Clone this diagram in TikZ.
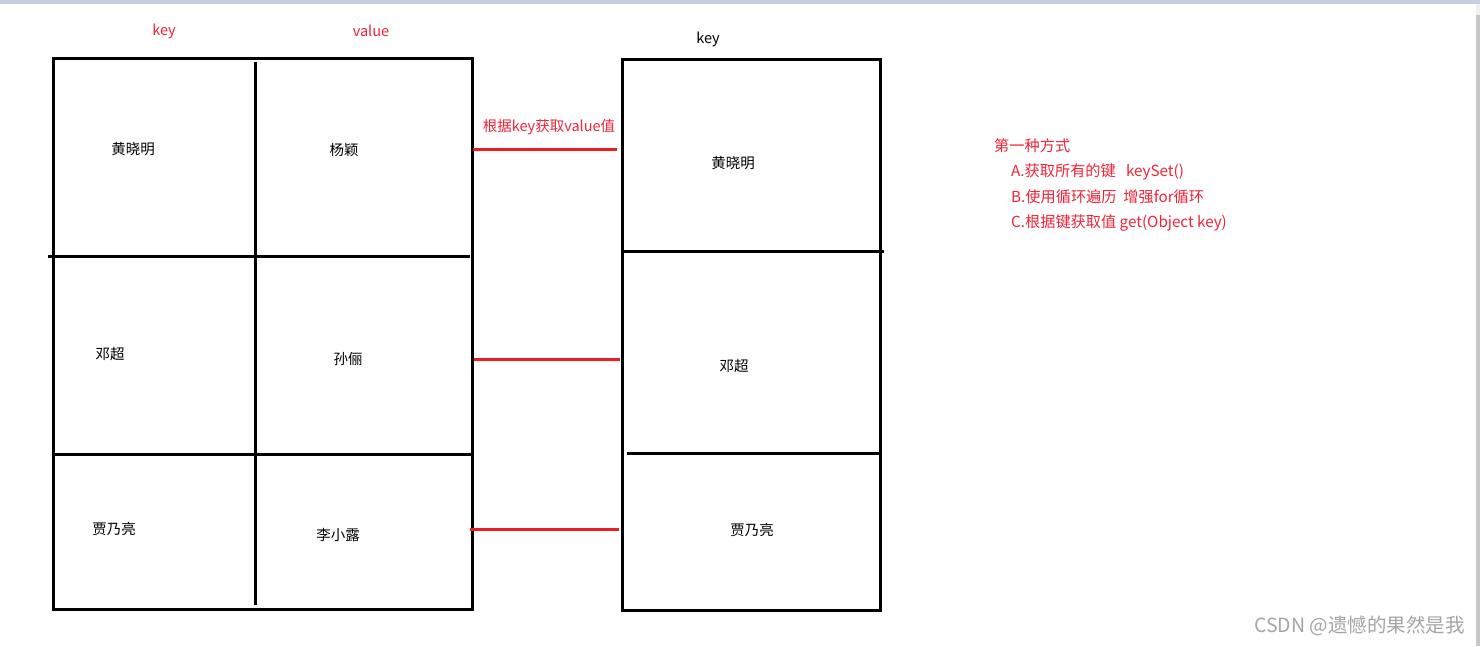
\documentclass[tikz,border=0pt]{standalone}
\usepackage{fontspec}
\setmainfont{Noto Sans CJK SC}
\definecolor{penred}{RGB}{237,28,36}
\definecolor{txtred}{RGB}{240,36,56}
\definecolor{topbar}{RGB}{197,207,224}
\definecolor{wmgray}{RGB}{165,165,165}
\begin{document}
\begin{tikzpicture}[
    x=1pt, y=-1pt,
    frame/.style={draw, line width=3pt},
    link/.style={draw=penred, line width=3pt},
    person/.style={font=\fontsize{14.5}{17}\selectfont},
    redtext/.style={text=txtred, font=\fontsize{14.5}{17}\selectfont},
    stepline/.style={redtext, font=\fontsize{15.2}{18}\selectfont, anchor=west, inner sep=0pt}
]
    % page margins and window chrome
    \useasboundingbox (0,0) rectangle (1480,646);
    \fill[white] (0,0) rectangle (1480,646);
    \fill[topbar] (0,0) rectangle (1480,4);
    \fill[black!6] (1476,4) rectangle (1480,15);
    \fill[black!22] (1476,15) rectangle (1480,646);

    % left table: key / value
    \draw[frame] (53,58) rectangle (472,609);
    \draw[frame] (255,62) -- (255,605);
    \draw[frame] (48,256) -- (470,256);
    \draw[frame] (53,454) -- (472,454);
    \node[redtext] (keyhead) at (164,31) {key};
    \node[redtext] (valhead) at (371,31) {value};
    \node[person] (k1) at (133,149) {黄晓明};
    \node[person] (v1) at (344,150) {杨颖};
    \node[person] (k2) at (110,354) {邓超};
    \node[person] (v2) at (348,359) {孙俪};
    \node[person] (k3) at (114,529) {贾乃亮};
    \node[person] (v3) at (338,535) {李小露};

    % right box: key set
    \draw[frame] (622,59) rectangle (880,610);
    \draw[frame] (622,251) -- (884,251);
    \draw[frame] (627,453) -- (880,453);
    \node[person] (sethead) at (708,39) {key};
    \node[person] (s1) at (733,163) {黄晓明};
    \node[person] (s2) at (734,366) {邓超};
    \node[person] (s3) at (752,530) {贾乃亮};

    % lookups
    \coordinate (a1) at (473,149);  \coordinate (b1) at (617,149);
    \coordinate (a2) at (474,359);  \coordinate (b2) at (620,359);
    \coordinate (a3) at (470,529);  \coordinate (b3) at (619,529);
    \draw[link] (a1) -- (b1);
    \draw[link] (a2) -- (b2);
    \draw[link] (a3) -- (b3);
    \node[redtext] (getlbl) at (549,127) {根据key获取value值};

    % steps
    \node[stepline] (way) at (994,146) {第一种方式};
    \node[stepline] (stepa) at (1011,172) {A.获取所有的键\ \ \ keySet()};
    \node[stepline] (stepb) at (1011,197) {B.使用循环遍历\ \ 增强for循环};
    \node[stepline] (stepc) at (1011,223) {C.根据键获取值 get(Object key)};

    \node[anchor=east, text=wmgray, font=\fontsize{19.5}{22}\selectfont, inner sep=0pt] (mark) at (1465,626) {CSDN @遗憾的果然是我};
\end{tikzpicture}
\end{document}
